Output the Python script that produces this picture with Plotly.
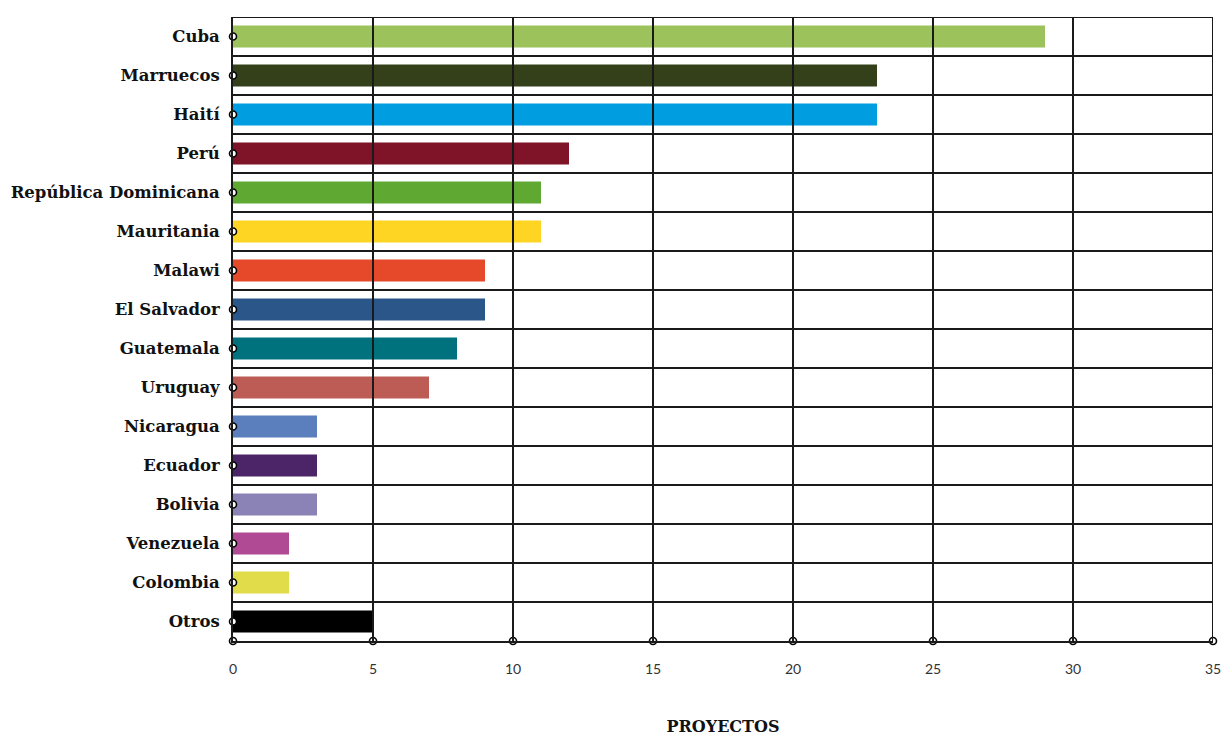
import plotly.graph_objects as go

countries = ["Cuba", "Marruecos", "Haití", "Perú", "República Dominicana", "Mauritania",
             "Malawi", "El Salvador", "Guatemala", "Uruguay", "Nicaragua", "Ecuador",
             "Bolivia", "Venezuela", "Colombia", "Otros"]
proyectos = [29, 23, 23, 12, 11, 11, 9, 9, 8, 7, 3, 3, 3, 2, 2, 5]
colors = ["#9BC25B", "#334019", "#009EE0", "#7F1327", "#5FA832", "#FFD524",
          "#E6492A", "#2A568A", "#00727E", "#BC5C55", "#5A7FBC", "#4C2468",
          "#8B82B6", "#B14A94", "#E0DC4A", "#000000"]
x_ticks = [0, 5, 10, 15, 20, 25, 30, 35]
x_title = "PROYECTOS"

n = len(countries)
y_idx = list(range(n))
line_col = "#1a1a1a"

fig = go.Figure()
fig.add_trace(go.Bar(
    y=y_idx, x=proyectos, orientation="h", width=0.56,
    marker=dict(color=colors, line=dict(width=0)),
    hovertext=countries, showlegend=False,
))

shapes = []
for k in range(n):
    shapes.append(dict(type="line", xref="x", yref="y", x0=0, x1=x_ticks[-1],
                       y0=k - 0.5, y1=k - 0.5, line=dict(color=line_col, width=2), layer="above"))
for t in x_ticks[1:]:
    shapes.append(dict(type="line", xref="x", yref="y", x0=t, x1=t,
                       y0=-0.5, y1=n - 0.5, line=dict(color=line_col, width=2), layer="above"))
fig.update_layout(shapes=shapes)

fig.add_trace(go.Scatter(
    x=[0] * n, y=y_idx, mode="markers", cliponaxis=False, showlegend=False,
    marker=dict(symbol="circle", size=7, color="white", line=dict(color="black", width=1.6)),
))
fig.add_trace(go.Scatter(
    x=x_ticks, y=[n - 0.5] * len(x_ticks), mode="markers", cliponaxis=False, showlegend=False,
    marker=dict(symbol="circle", size=7, color="white", line=dict(color="black", width=1.6)),
))

fig.update_layout(
    width=1224, height=736,
    margin=dict(l=233, r=11, t=17, b=95, autoexpand=False),
    plot_bgcolor="white", paper_bgcolor="white",
    xaxis=dict(
        range=[0, x_ticks[-1]], tickvals=x_ticks, ticktext=[str(v) for v in x_ticks],
        showgrid=False, zeroline=False, showline=True, linecolor=line_col, linewidth=2,
        ticks="", ticklabelstandoff=14, automargin=False, ticklabeloverflow="allow",
        tickfont=dict(family="Lato, Open Sans, sans-serif", size=14, color="#333333"),
        title=dict(text="<b>" + x_title + "</b>", standoff=60,
                   font=dict(family="DejaVu Serif, serif", size=16, color="#111111")),
        layer="above traces",
    ),
    yaxis=dict(
        range=[n - 0.5, -0.5], tickvals=y_idx, ticktext=["<b>" + c + "</b>" for c in countries],
        showgrid=False, zeroline=False, showline=True, linecolor=line_col, linewidth=2,
        ticks="", ticklabelstandoff=8, automargin=False,
        tickfont=dict(family="DejaVu Serif, serif", size=16.5, color="#111111"),
        layer="above traces",
    ),
)

fig.write_html("out.html", config={"displayModeBar": False},
               post_script="document.body.style.margin='0';document.body.style.overflow='hidden';")
